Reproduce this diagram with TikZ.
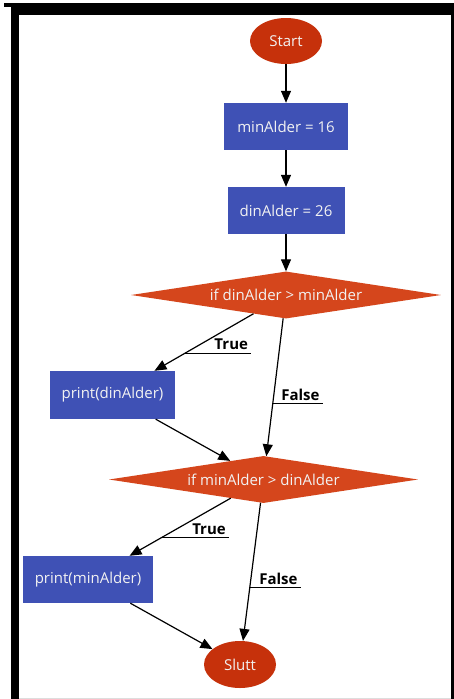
\documentclass[tikz,border=0pt]{standalone}
\usepackage{fontspec}
\setmainfont{Open Sans}
\usetikzlibrary{shapes.geometric,arrows.meta}

\definecolor{decisionfill}{HTML}{D5461C}
\definecolor{terminalfill}{HTML}{C6310B}
\definecolor{processfill}{HTML}{3F51B5}
\definecolor{nodetext}{HTML}{F2F2F2}
\definecolor{framegrey}{HTML}{DDDDDD}

\tikzset{
  nodefont/.style={font=\fontsize{15}{17}\selectfont},
  terminal/.style={ellipse, fill=terminalfill, text=nodetext, inner sep=0pt,
    minimum width=72pt, minimum height=46pt, nodefont},
  process/.style={rectangle, fill=processfill, text=nodetext, inner sep=0pt, nodefont},
  decision/.style={diamond, fill=decisionfill, text=nodetext, shape aspect=6.6,
    inner sep=0pt, minimum width=310pt, minimum height=47pt, nodefont},
  flow/.style={draw=black, line width=1.2pt, -{Triangle[length=12pt,width=10pt]}},
  lbl/.style={font=\bfseries\fontsize{15}{17}\selectfont, inner sep=3pt},
  tick/.style={line width=1pt}
}

\begin{document}
\begin{tikzpicture}[x=1pt, y=-1pt]
  \useasboundingbox (0,0) rectangle (454,699);
  % window frame
  \fill[white] (0,0) rectangle (454,699);
  \fill[black] (11,3) rectangle (454,699);
  \fill[black] (4,3) rectangle (11,7);
  \fill[white] (19,15) rectangle (451,698);
  \draw[framegrey, line width=1pt] (19,698) -- (451,698);

  % nodes
  \node[terminal] (start) at (286,41) {Start};
  \node[process, minimum width=124pt, minimum height=47pt] (m16) at (286,126.5) {minAlder = 16};
  \node[process, minimum width=117pt, minimum height=47pt] (d26) at (286,210.5) {dinAlder = 26};
  \node[decision] (c1) at (286,295) {if dinAlder > minAlder};
  \node[process, minimum width=125pt, minimum height=48pt] (p1) at (112.5,395) {print(dinAlder)};
  \node[decision, minimum width=309pt] (c2) at (263.5,479.5) {if minAlder > dinAlder};
  \node[process, minimum width=130pt, minimum height=47pt] (p2) at (88,579.5) {print(minAlder)};
  \node[terminal, minimum height=47pt] (end) at (240,664.5) {Slutt};

  % connectors
  \draw[flow] (start) -- (m16);
  \draw[flow] (m16) -- (d26);
  \draw[flow] (d26) -- (c1);

  \draw[flow] (c1) -- coordinate[pos=0.69] (t1) (p1);
  \node[lbl, anchor=south east] (t1l) at ([xshift=66pt]t1) {True};
  \draw[tick] (t1) -- (t1l.south east);

  \draw[flow] (c1) -- coordinate[pos=0.62] (f1) (c2);
  \node[lbl, anchor=south east] (f1l) at ([xshift=50pt]f1) {False};
  \draw[tick] (f1) -- (f1l.south east);

  \draw[flow] (p1) -- (c2);

  \draw[flow] (c2) -- coordinate[pos=0.69] (t2) (p2);
  \node[lbl, anchor=south east] (t2l) at ([xshift=68pt]t2) {True};
  \draw[tick] (t2) -- (t2l.south east);

  \draw[flow] (c2) -- coordinate[pos=0.617] (f2) (end);
  \node[lbl, anchor=south east] (f2l) at ([xshift=51pt]f2) {False};
  \draw[tick] (f2) -- (f2l.south east);

  \draw[flow] (p2) -- (end);
\end{tikzpicture}
\end{document}
